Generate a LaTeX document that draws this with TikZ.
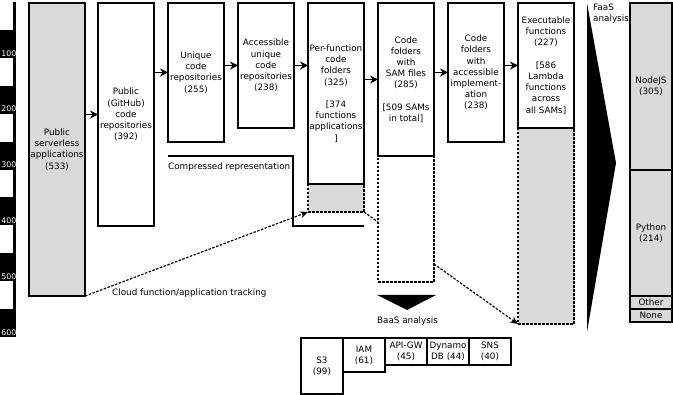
\documentclass[tikz,border=0pt]{standalone}
\usepackage{fontspec}
\setmainfont{DejaVu Sans}
\usetikzlibrary{arrows.meta}
\definecolor{shade}{HTML}{D9D9D9}

\begin{document}
\begin{tikzpicture}[x=1pt, y=-1pt, font=\fontsize{8.8}{11.2}\selectfont,
    stage/.style={draw, line width=1.4pt, anchor=north west, align=center,
      inner sep=0pt, outer sep=0pt, minimum width=56pt},
    ext/.style={draw, line width=1.2pt, dash pattern=on 2.5pt off 1.5pt,
      anchor=north west, inner sep=0pt, outer sep=0pt, minimum width=56pt},
    lang/.style={stage, fill=shade, minimum width=42pt},
    svc/.style={stage, minimum width=42pt},
    flow/.style={-{Stealth[length=8pt, width=8pt]}, line width=1.6pt},
    track/.style={line width=1.2pt, dash pattern=on 2.5pt off 1.5pt}]

	\useasboundingbox (0,0) rectangle (673,395);

	% Scala a sinistra (0 - 600)
	\draw[line width=3pt] (14.5,2.2) -- (14.5,337);
	\foreach \v in {100,200,...,600}{
		\fill (0,{2.2+0.558*(\v-50)}) rectangle (16,{2.2+0.558*\v});
		\node[white, anchor=base east, inner sep=0pt, font=\fontsize{7.8}{8}\selectfont]
			at (16.5,{0.4+0.558*\v}) {\v};
	}

	% Parti compresse (tratteggiate), sotto le colonne
	\node[ext, fill=shade, minimum height=28pt] (Eext) at (308,184) {};
	\node[ext, minimum height=126pt] (Fext) at (378,156) {};
	\node[ext, fill=shade, minimum height=196pt] (Hext) at (518,128) {};

	% Colonne della pipeline
	\node[stage, fill=shade, minimum height=293pt] (A) at (29,3)
		{Public\\serverless\\applications\\(533)};
	\node[stage, minimum height=223pt] (B) at (98,3)
		{Public\\(GitHub)\\code\\repositories\\(392)};
	\node[stage, minimum height=139pt] (C) at (168,3)
		{Unique\\code\\repositories\\(255)};
	\node[stage, minimum height=125pt] (D) at (238,3)
		{Accessible\\unique\\code\\repositories\\(238)};
	\node[stage, minimum height=181pt] (E) at (308,3)
		{Per-function\\code\\folders\\(325)\\[11.2pt]{[}374\\functions\\applications\\]};
	\node[stage, minimum height=153pt] (F) at (378,3)
		{Code\\folders\\with\\SAM files\\(285)\\[11.2pt]{[}509 SAMs\\in total]};
	\node[stage, minimum height=139pt] (G) at (448,3)
		{Code\\folders\\with\\accessible\\implement-\\ation\\(238)};
	\node[stage, minimum height=125pt] (H) at (518,3)
		{Executable\\functions\\(227)\\[11.2pt]{[}586\\Lambda\\functions\\across\\all SAMs]};

	% Frecce tra le colonne
	\draw[flow] (A.east |- B.west) -- (B.west);
	\draw[flow] (B.east |- C.west) -- (C.west);
	\draw[flow] (C.east |- D.west) -- (D.west);
	\draw[flow] (D.east) -- (D.east -| E.west);
	\draw[flow] (E.east |- F.west) -- (F.west);
	\draw[flow] (F.east |- G.west) -- (G.west);
	\draw[flow] (G.east |- H.west) -- (H.west);

	% Rappresentazione compressa
	\draw[line width=2.8pt] (168,156) -- (293,156) -- (293,226) -- (364,226);
	\node[anchor=west, inner sep=0pt] (cmp) at (168,167) {Compressed representation};

	% Tracciamento
	\coordinate (fin) at ([yshift=-66pt]Fext.north west);
	\coordinate (fout) at ([yshift=18pt]Fext.south east);
	\draw[track, -{Stealth[length=8pt, width=7pt]}] (A.south east) -- (Eext.south west);
	\draw[track] (Eext.south east) -- (fin);
	\draw[track, -{Stealth[length=8pt, width=7pt]}] (fout) -- (Hext.south west);
	\node[anchor=west, inner sep=0pt] (trk) at (112,293) {Cloud function/application tracking};

	% Analisi FaaS
	\fill (587,3) -- (616,163) -- (587,332) -- cycle;
	\node[anchor=north west, align=left, inner sep=0pt] (faas) at (593,3.5) {FaaS\\analysis};
	\node[lang, minimum height=167pt] (js) at (630,3) {NodeJS\\(305)};
	\node[lang, minimum height=126pt] (py) at (630,170) {Python\\(214)};
	\node[lang, minimum height=13pt] (oth) at (630,296) {Other};
	\node[lang, minimum height=13pt] (non) at (630,309) {None};

	% Analisi BaaS
	\fill (377,295) -- (436,295) -- (407,310) -- cycle;
	\node[inner sep=0pt] (baas) at (407.5,321) {BaaS analysis};
	\node[svc, minimum height=56pt] (s3) at (301,338) {S3\\(99)};
	\node[svc, minimum height=34pt] (iam) at (343,338) {IAM\\(61)};
	\node[svc, minimum height=27pt] (api) at (385,338) {API-GW\\(45)};
	\node[svc, minimum height=27pt] (ddb) at (427,338) {Dynamo\\DB (44)};
	\node[svc, minimum height=27pt] (sns) at (469,338) {SNS\\(40)};

\end{tikzpicture}
\end{document}
